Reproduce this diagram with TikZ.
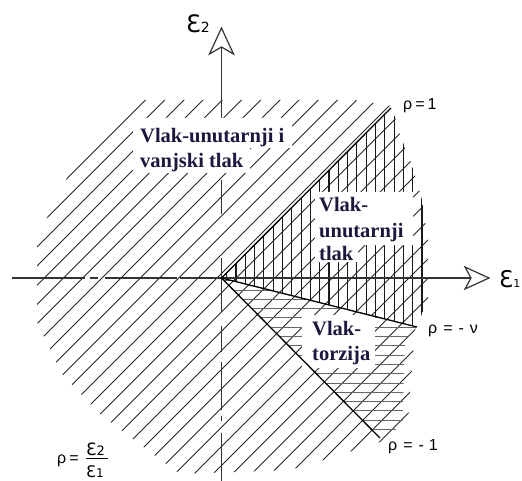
\documentclass[tikz,border=0pt]{standalone}
\usepackage{fontspec}
\setmainfont{Liberation Serif}
\newfontfamily\labelfont{Liberation Sans}
\newfontfamily\epsfont{DejaVu Sans}
\definecolor{txtnavy}{RGB}{28,24,62}
\begin{document}
\begin{tikzpicture}[x=1pt,y=-1pt,
  hatch/.style={line width=0.9pt, black!85},
  vhatch/.style={line width=1.1pt, black!90},
  hhatch/.style={line width=0.9pt, black!60},
  axisline/.style={line width=1.2pt, black!80},
  rholine/.style={line width=1.3pt, black},
  region/.style={font=\fontsize{20.5}{24}\selectfont\bfseries, text=txtnavy, anchor=base west, inner sep=0pt},
  lbl/.style={font=\labelfont\fontsize{16}{18}\selectfont, anchor=base west, inner sep=0pt},
  epslbl/.style={font=\epsfont, anchor=base west, inner sep=0pt},
  mask/.style={fill=white}
]
\useasboundingbox (0,0) rectangle (522,481);

\coordinate (O) at (221.5,278);
\coordinate (R1) at (391,108);
\coordinate (Rnu) at (417,327);
\coordinate (Rm1) at (380,438);

% hatching
\begin{scope}
  \clip (135,100) -- (355,100) -- (392,106) -- (400,135) -- (412,165) -- (422,200)
     -- (428,240) -- (428,300) -- (415,330) -- (408,420) -- (380,442) -- (330,458)
     -- (290,470) -- (180,474) -- (150,452) -- (100,414) -- (62,374) -- (37,322)
     -- (37,245) -- (50,210) -- (67,178) -- (100,140) -- (135,108) -- cycle;
  \foreach \k in {-6,...,27} \draw[hatch] ({341.5+19.2*\k},0) -- ++(-520,520);
  \begin{scope}
    \clip (O) -- (400,99) -- (440,99) -- (440,333) -- cycle;
    \foreach \k in {0,...,22} \draw[vhatch] ({226.7+9.3*\k},90) -- ++(0,260);
  \end{scope}
  \begin{scope}
    \clip (O) -- (418,327) -- (405,340) -- (402,442) -- (383,442) -- cycle;
    \foreach \k in {-1,...,15} \draw[hhatch] (200,{290+9.3*\k}) -- ++(230,0);
  \end{scope}
\end{scope}

% axes
\coordinate (hx0) at (12,278);
\coordinate (hxn) at (471,278);
\draw[axisline] (hx0) -- (85,278) (90,278) -- (98,278) (105,278) -- (177,278) (180,278) -- (hxn);
\draw[axisline, line join=miter] (hxn) -- (465,267) -- (489,278) -- (465,289) -- cycle;
\coordinate (vy0) at (221.5,47);
\draw[axisline] (vy0) -- (221.5,118) (221.5,180) -- (221.5,214) (221.5,258) -- (221.5,312)
   (221.5,326) -- (221.5,352) (221.5,362) -- (221.5,410) (221.5,416) -- (221.5,421)
   (221.5,433) -- (221.5,481);
\draw[axisline, line join=miter] (vy0) -- (209.5,54) -- (221.5,28) -- (233.5,54) -- cycle;

% white masks behind text
\fill[mask] (133,118) -- (292,118) -- (292,148) -- (250,148) -- (250,173) -- (133,173) -- cycle;
\fill[mask] (315,192) -- (413,192) -- (413,245) -- (358,245) -- (358,262) -- (315,262) -- cycle;
\fill[mask] (302,315) -- (375,315) -- (375,368) -- (302,368) -- cycle;

% rho lines
\draw[rholine] (O) -- (R1);
\draw[rholine] (O) -- (Rnu);
\draw[rholine] (O) -- (Rm1);

% region texts
\node[region] (ta1) at (140,143) {Vlak-unutarnji i};
\node[region] (ta2) at (140,168) {vanjski tlak};
\node[region] (tb1) at (319,212) {Vlak-};
\node[region] (tb2) at (319,237) {unutarnji};
\node[region] (tb3) at (319,260) {tlak};
\node[region] (tc1) at (312,335) {Vlak-};
\node[region] (tc2) at (312,360) {torzija};

% rho labels
\node[lbl] (l1) at (403,110) {ρ\hspace{3pt}=\hspace{3pt}1};
\node[lbl] (l2) at (428,333) {ρ\hspace{6pt}=\hspace{6pt}-\hspace{6pt}ν};
\node[lbl] (l3) at (388,450) {ρ\hspace{6pt}=\hspace{6pt}-\hspace{5pt}1};

% axis labels
\node[epslbl] (e2) at (186,33) {\fontsize{24}{24}\selectfont Ɛ\fontsize{14}{14}\selectfont 2};
\node[epslbl] (e1) at (499,287) {\fontsize{23}{23}\selectfont Ɛ\fontsize{11}{11}\selectfont 1};

% formula
\node[lbl] (frho) at (57,463) {ρ\hspace{3pt}=};
\node[epslbl] (fnum) at (86,455) {\fontsize{17}{17}\selectfont Ɛ\fontsize{13}{13}\selectfont 2};
\draw[line width=0.8pt] (86,458.5) coordinate (fb0) -- (108,458.5) coordinate (fb1);
\node[epslbl] (fden) at (86,477) {\fontsize{16}{16}\selectfont Ɛ\fontsize{12}{12}\selectfont 1};
\end{tikzpicture}
\end{document}
